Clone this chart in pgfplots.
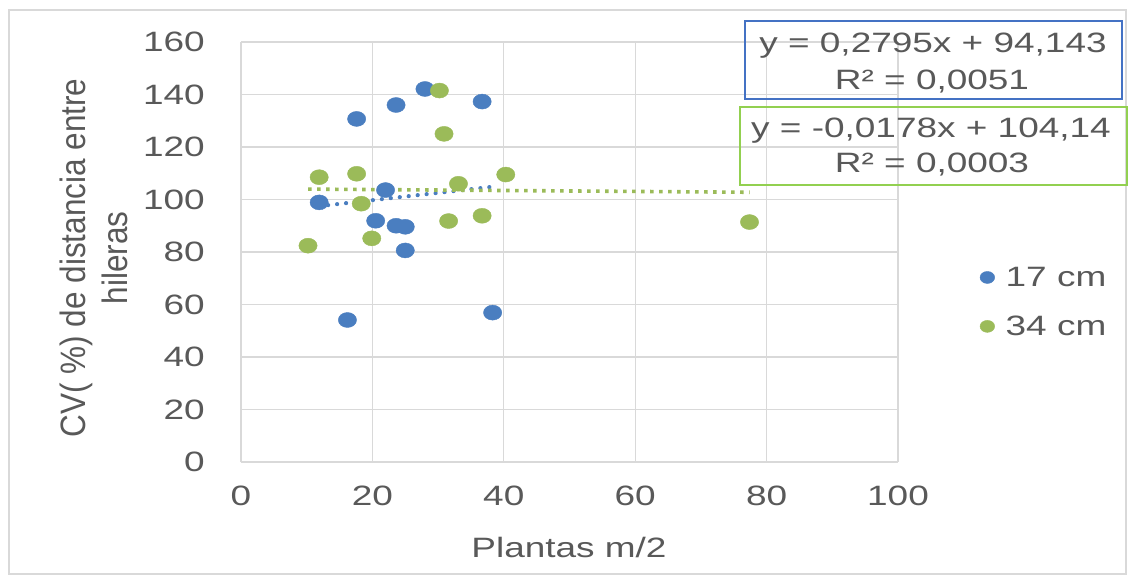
\documentclass[border=0pt]{standalone}
\usepackage{pgfplots}
\pgfplotsset{compat=1.18}
\usepackage{fontspec}
\setmainfont{Liberation Sans}[FakeStretch=1.32]
\newfontfamily\plainfont{Liberation Sans}
\definecolor{txt}{HTML}{595959}
\definecolor{gridgray}{HTML}{D9D9D9}
\definecolor{ser1}{HTML}{4A7EC0}
\definecolor{ser2}{HTML}{9BBB59}
\definecolor{box1}{HTML}{4472C4}
\definecolor{box2}{HTML}{92D050}
\begin{document}
\begin{tikzpicture}[x=1pt,y=1pt]
\useasboundingbox (0,0) rectangle (1135,582);
\fill[white] (0,0) rectangle (1135,582);
\draw[gridgray, line width=1.5pt] (9,8) rectangle (1126,572);
\begin{axis}[
  at={(241pt,120pt)}, anchor=south west,
  scale only axis, width=657pt, height=420pt,
  xmin=0, xmax=100, ymin=0, ymax=160,
  xtick={0,20,...,100}, ytick={0,20,...,160},
  grid=major, major grid style={draw=gridgray, line width=1.2pt},
  axis line style={draw=none}, major tick length=0pt,
  /pgf/number format/assume math mode=true,
  ticklabel style={font=\fontsize{28}{34}\selectfont, text=txt, inner sep=0pt},
  yticklabel style={anchor=east, xshift=-36pt},
  xticklabel style={anchor=north, yshift=-24pt},
  clip=false,
  legend style={at={(axis description cs:1.12,0.381)}, anchor=west, draw=none, fill=none,
    font=\fontsize{28}{34}\selectfont, text=txt, row sep=24pt,
    nodes={inner xsep=11pt}},
  legend image post style={mark size=6pt},
  legend cell align=left,
]
\addplot[only marks, mark=*, mark size=7.5pt, mark options={fill=ser1, draw=ser1, xscale=1.22}] coordinates {
(28.0,142.1) (23.6,136.0) (17.6,130.7) (36.7,137.3) (22.0,103.6) (11.9,98.9)
(20.5,91.9) (23.6,90.0) (25.0,89.6) (25.0,80.6) (16.2,54.1) (38.3,56.9)};
\addlegendentry{17 cm}
\addplot[only marks, mark=*, mark size=7.5pt, mark options={fill=ser2, draw=ser2, xscale=1.22}] coordinates {
(30.2,141.5) (30.9,125.0) (11.9,108.5) (17.6,109.8) (33.1,106.0) (40.3,109.5)
(18.3,98.4) (31.6,91.8) (36.7,93.8) (19.9,85.2) (10.2,82.4) (77.4,91.4)};
\addlegendentry{34 cm}
\addplot[ser1, line width=4.2pt, line cap=round, dash pattern=on 0.01pt off 9pt, forget plot] coordinates {(11.9,97.47) (38.3,104.85)};
\addplot[ser2, line width=3.6pt, dash pattern=on 3.6pt off 5.4pt, forget plot] coordinates {(10.2,103.96) (77.4,102.76)};
\end{axis}
\node[anchor=base, text=txt, font=\fontsize{28}{34}\selectfont, inner sep=0pt] at (569,25) {Plantas m/2};
\node[rotate=90, text=txt, inner sep=0pt, anchor=center] at (98,324)
  {\scalebox{1}[1.12]{\plainfont\fontsize{31.5}{37}\selectfont\begin{tabular}{@{}c@{}}CV( \%) de distancia entre\\ hileras\end{tabular}}};
\draw[box1, line width=2pt] (745,561) rectangle (1122,483);
\draw[box2, line width=2pt] (740,475) rectangle (1127,397);
\begin{scope}[every node/.style={anchor=base, text=txt, font=\fontsize{28}{34}\selectfont, inner sep=0pt}]
\node at (933,529) {y = 0,2795x + 94,143};
\node at (932,492) {R² = 0,0051};
\node at (931,444) {y = -0,0178x + 104,14};
\node at (932,409) {R² = 0,0003};
\end{scope}
\end{tikzpicture}
\end{document}
